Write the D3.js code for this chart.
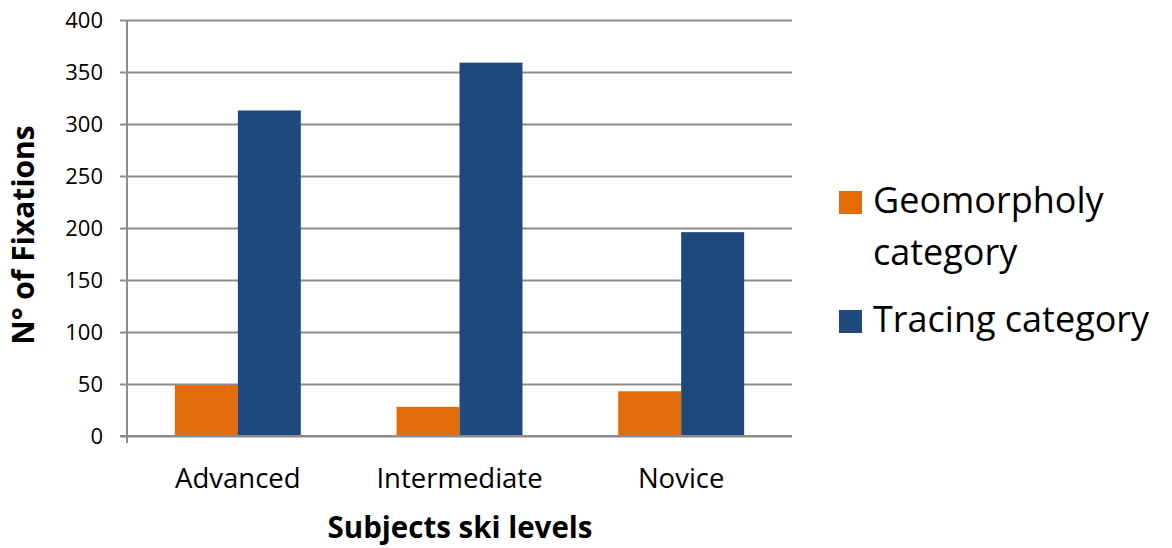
<!DOCTYPE html>
<html>
<head>
<meta charset="utf-8">
<script src="https://cdn.jsdelivr.net/npm/d3@7/dist/d3.min.js"></script>
<style>
  body { margin: 0; background: #fff; }
  svg { display: block; font-family: "Open Sans", Lato, sans-serif; }
</style>
</head>
<body>
<svg id="chart" width="1172" height="548"></svg>
<script>
// Fixation counts per ski level
const levels = ["Advanced", "Intermediate", "Novice"];
const seriesNames = ["Geomorpholy category", "Tracing category"];
const geomorphology = [49, 28, 43];
const tracing = [313, 359, 196];
const yTicks = [0, 50, 100, 150, 200, 250, 300, 350, 400];
const colors = ["#E36C0A", "#1F497D"];

const svg = d3.select("#chart");
const m = { left: 127, right: 380, top: 20, bottom: 112 };
const W = 1172, H = 548;
const plotW = W - m.left - m.right;
const plotH = H - m.top - m.bottom;

const x = d3.scaleBand().domain(levels).range([m.left, m.left + plotW]).paddingInner(0).paddingOuter(0);
const x1 = d3.scaleBand().domain([0, 1]).range([0, x.bandwidth()]).paddingInner(0).paddingOuter(0.76);
const y = d3.scaleLinear().domain([0, 400]).range([m.top + plotH, m.top]);

// gridlines with short ticks to the left of the axis
const yAxis = d3.axisLeft(y).tickValues(yTicks).tickSize(0).tickPadding(17).tickFormat(d3.format("d"));
const gy = svg.append("g").attr("transform", `translate(${m.left - 7},0)`).call(yAxis);
gy.select(".domain").remove();
gy.selectAll(".tick line").attr("stroke", "#8c8c8c").attr("stroke-width", 2).attr("x1", 0).attr("x2", plotW + 7);
gy.selectAll(".tick text").attr("font-size", 22).attr("fill", "#000").attr("font-family", "'Open Sans', sans-serif");

// vertical axis line
svg.append("line").attr("x1", m.left).attr("x2", m.left)
  .attr("y1", m.top).attr("y2", m.top + plotH + 7)
  .attr("stroke", "#8c8c8c").attr("stroke-width", 2);

// bars
const series = [geomorphology, tracing];
series.forEach((vals, si) => {
  svg.append("g").selectAll("rect").data(levels).join("rect")
    .attr("x", d => x(d) + x1(si))
    .attr("width", x1.bandwidth())
    .attr("y", (d, i) => y(vals[i]))
    .attr("height", (d, i) => y(0) - y(vals[i]))
    .attr("fill", colors[si]);
});

// category labels
const xAxis = d3.axisBottom(x).tickSize(0).tickPadding(0);
const gx = svg.append("g").attr("transform", `translate(0,${y(0)})`).call(xAxis);
gx.select(".domain").remove();
gx.selectAll(".tick text").attr("font-size", 27.5).attr("fill", "#000")
  .attr("font-family", "'Open Sans', sans-serif").attr("dy", null).attr("y", 52);

// baseline drawn over the bars
svg.append("line").attr("x1", m.left - 7).attr("x2", m.left + plotW)
  .attr("y1", y(0)).attr("y2", y(0)).attr("stroke", "#8c8c8c").attr("stroke-width", 2);

// axis titles
svg.append("text").attr("x", 460).attr("y", 538).attr("text-anchor", "middle")
  .attr("font-size", 29.5).attr("font-weight", "bold").text("Subjects ski levels");
svg.append("text").attr("transform", "translate(34,235) rotate(-90)").attr("text-anchor", "middle")
  .attr("font-size", 30).attr("font-weight", "bold").text("N° of Fixations");

// legend
const legendItems = [
  { lines: ["Geomorpholy", "category"], y: 202 },
  { lines: ["Tracing category"], y: 321 }
];
legendItems.forEach((it, i) => {
  svg.append("rect").attr("x", 839).attr("y", it.y - 11).attr("width", 23).attr("height", 23).attr("fill", colors[i]);
  const t = svg.append("text").attr("x", 873).attr("y", it.y + 11).attr("font-size", 36).attr("fill", "#000");
  it.lines.forEach((ln, k) => t.append("tspan").attr("x", 873).attr("dy", k === 0 ? 0 : 52).text(ln));
});
</script>
</body>
</html>
